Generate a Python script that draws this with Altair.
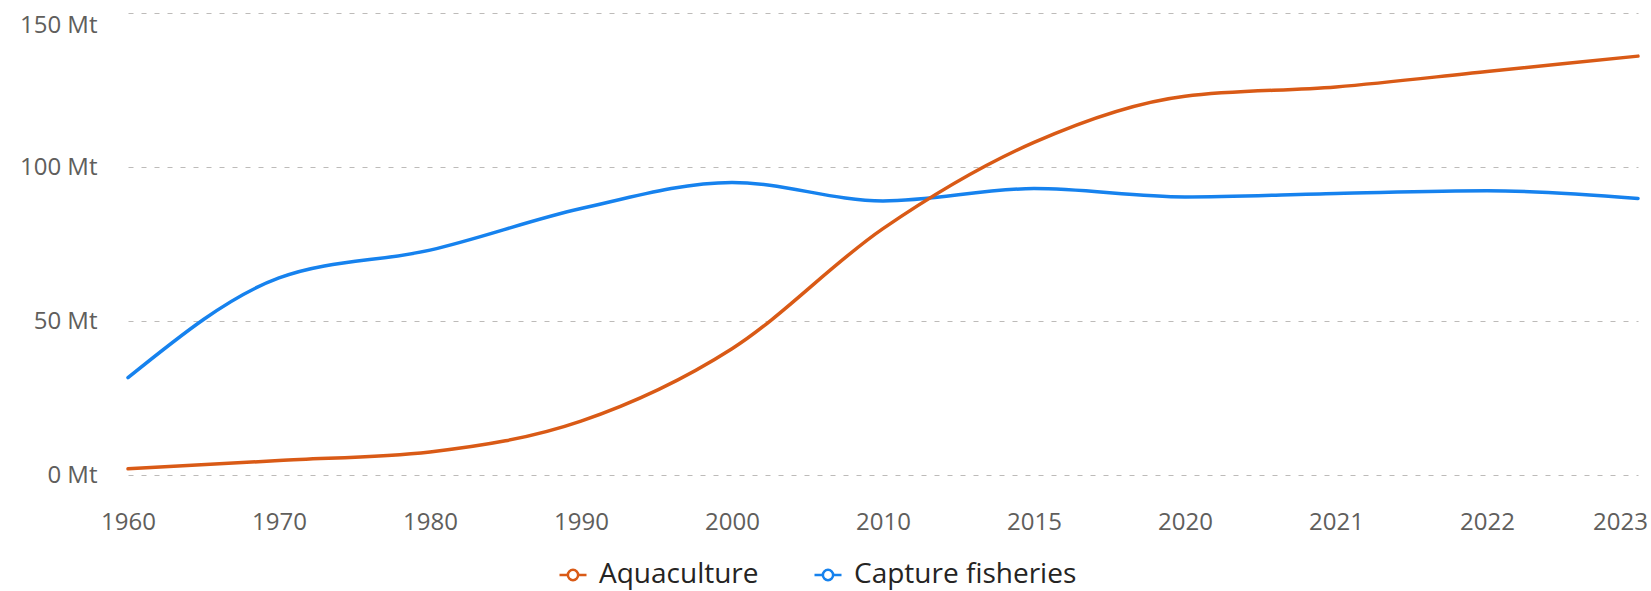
import altair as alt
import pandas as pd

# Production by source, million tonnes
years = ["1960", "1970", "1980", "1990", "2000", "2010", "2015", "2020", "2021", "2022", "2023"]
aquaculture = [2.0, 4.7, 7.5, 17.5, 41.0, 80.0, 108.0, 123.0, 126.0, 131.0, 136.0]
capture = [31.6, 64.0, 73.0, 86.5, 95.0, 89.0, 93.0, 90.3, 91.4, 92.3, 89.8]

series = ["Aquaculture", "Capture fisheries"]
colors = ["#D95A16", "#1682EE"]
y_ticks = [0, 50, 100, 150]

# capture rows first so the aquaculture line is drawn on top
rows = []
for name, vals in (("Capture fisheries", capture), ("Aquaculture", aquaculture)):
    for yr, v in zip(years, vals):
        rows.append({"year": yr, "series": name, "value": v})
df = pd.DataFrame(rows)

# line-with-open-circle legend glyph
legend_symbol = (
    "M-1,0L-0.38,0M0.38,0L1,0"
    "M-0.38,0A0.38,0.38,0,1,1,0.38,0A0.38,0.38,0,1,1,-0.38,0Z"
)

font = "Open Sans"

chart = alt.Chart(df).mark_line(
    interpolate="monotone", strokeWidth=3.5, strokeCap="round", strokeJoin="round"
).encode(
    x=alt.X(
        "year:O",
        sort=years,
        scale=alt.Scale(type="point", padding=0),
        axis=alt.Axis(
            title=None,
            labelAngle=0,
            domain=False,
            ticks=False,
            grid=False,
            labelPadding=35,
            labelFontSize=24,
            labelFont=font,
            labelColor="#605E5C",
            labelOffset=alt.condition("datum.value == '2023'", alt.value(-18), alt.value(0)),
        ),
    ),
    y=alt.Y(
        "value:Q",
        scale=alt.Scale(domain=[0, 150], nice=False),
        axis=alt.Axis(
            title=None,
            values=y_ticks,
            labelExpr="datum.value + ' Mt'",
            domain=False,
            ticks=False,
            labelPadding=31,
            labelFontSize=24,
            labelFont=font,
            labelColor="#605E5C",
            labelBaseline=alt.condition("datum.value == 150", alt.value("top"), alt.value("middle")),
            grid=True,
            gridColor="#BDBBB9",
            gridDash=[5, 8],
            gridWidth=1,
        ),
    ),
    color=alt.Color(
        "series:N",
        scale=alt.Scale(domain=series, range=colors),
        legend=alt.Legend(
            title=None,
            orient="none",
            legendX=430,
            legendY=547,
            direction="horizontal",
            symbolType=legend_symbol,
            symbolSize=729,
            symbolStrokeWidth=2.5,
            symbolFillColor="white",
            labelFontSize=28,
            labelFont=font,
            labelColor="#252423",
            labelOffset=11,
            labelLimit=0,
            columnPadding=50,
        ),
    ),
).properties(
    width=1510,
    height=462,
    padding={"left": 128, "top": 13, "right": 13, "bottom": 116},
    autosize="none",
).configure_view(stroke=None)

chart.save("out.html", embed_options={"renderer": "svg", "actions": False})
